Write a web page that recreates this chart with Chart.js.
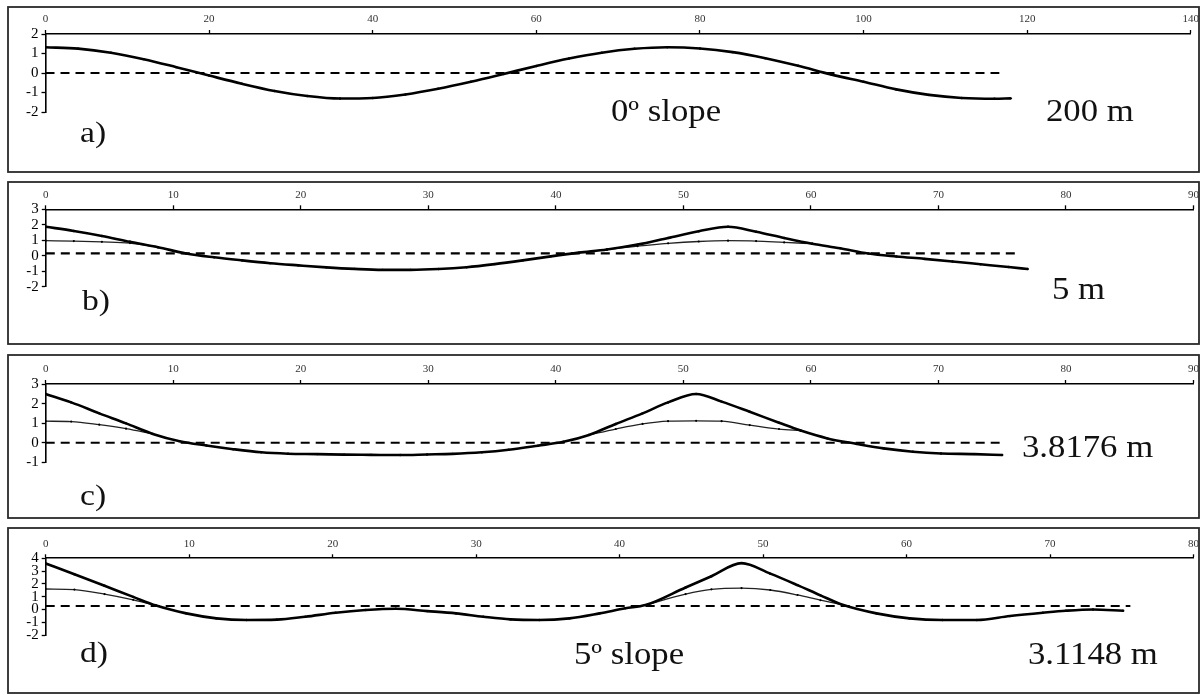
<!DOCTYPE html>
<html><head><meta charset="utf-8">
<script src="https://cdn.jsdelivr.net/npm/chart.js@4/dist/chart.umd.min.js"></script>
<style>
html,body{margin:0;padding:0;background:#fff;width:1203px;height:695px;overflow:hidden;}
canvas{position:absolute;left:0;}
</style></head><body>
<canvas id="pa" width="1203" height="176" style="top:0px"></canvas>
<canvas id="pb" width="1203" height="174" style="top:176px"></canvas>
<canvas id="pc" width="1203" height="174" style="top:350px"></canvas>
<canvas id="pd" width="1203" height="171" style="top:524px"></canvas>
<script>
// ---------- data ----------
// panel a) 0º slope, 200 m
const aX      = [0,4,8,12,16,20,24,28,32,36,40,44,48,52,56,60,64,68,72,76,80,84,88,92,96,100,104,108,112,116,118];
const aThick  = [1.32,1.25,1.04,0.71,0.30,-0.13,-0.55,-0.92,-1.18,-1.31,-1.28,-1.10,-0.81,-0.45,-0.05,0.36,0.74,1.04,1.24,1.32,1.26,1.07,0.76,0.37,-0.07,-0.45,-0.84,-1.12,-1.28,-1.32,-1.30];
const aLevelX = [0,116.6];
const aLevel  = [0,0];

// panel b) 5 m
const bX      = [0,2.2,4.4,6.6,8.8,11,13.2,15.4,17.6,19.8,22,24.2,26.4,28.6,30.8,33,35.2,37.4,39.6,41.8,44,46.4,48.8,51.2,53.5,55.7,57.9,60.1,62.3,64.5,66.7,68.9,71.1,73.3,75.5,77];
const bThick  = [1.87,1.6,1.28,0.9,0.55,0.15,-0.1,-0.3,-0.48,-0.62,-0.75,-0.85,-0.91,-0.91,-0.86,-0.74,-0.54,-0.3,-0.04,0.2,0.4,0.72,1.15,1.58,1.87,1.55,1.15,0.78,0.48,0.14,-0.05,-0.2,-0.37,-0.55,-0.73,-0.86];
const bThin   = [0.97,0.95,0.9,0.82,0.55,null,null,null,null,null,null,null,null,null,null,null,null,null,null,null,0.4,0.62,0.8,0.92,0.97,0.95,0.86,0.78,null,null,null,null,null,null,null,null];
const bLevelX = [0,76.1];
const bLevel  = [0.15,0.15];

// panel c) 3.8176 m
const cX      = [0,2.0,4.2,6.3,8.4,10.5,12.6,14.7,16.9,19,21.3,23.4,25.5,27.8,29.9,31.9,34.2,36.3,38.6,40.6,42.6,44.7,46.8,48.8,51,53,55.2,57.5,59.2,61.3,63.6,65.7,68,70.2,72.8,75];
const cThick  = [2.49,2.06,1.5,0.99,0.45,0.08,-0.14,-0.33,-0.49,-0.56,-0.58,-0.61,-0.62,-0.63,-0.6,-0.57,-0.49,-0.36,-0.15,0.05,0.4,0.96,1.5,2.06,2.49,2.1,1.58,1.02,0.62,0.22,-0.06,-0.29,-0.46,-0.55,-0.58,-0.63];
const cThin   = [1.1,1.08,0.92,0.72,0.45,null,null,null,null,null,null,null,null,null,null,null,null,null,null,null,0.4,0.7,0.96,1.1,1.12,1.1,0.9,0.7,0.62,null,null,null,null,null,null,null];
const cLevelX = [0,74.8];
const cLevel  = [0,0];

// panel d) 5º slope, 3.1148 m
const dX      = [0,2.0,4.1,6.1,7.7,9.8,11.9,14.0,16.1,18.1,20.2,22.3,24.4,26.6,28.6,30.5,32.4,34.4,36.5,38.6,40.4,41.8,44.6,46.4,48.5,50.5,52.4,54,55.6,57.9,60.2,62.5,64.9,67.2,69.5,71.1,73,75.1];
const dThick  = [3.6,2.75,1.85,0.98,0.3,-0.31,-0.7,-0.83,-0.8,-0.57,-0.26,-0.05,0.05,-0.13,-0.31,-0.57,-0.78,-0.83,-0.7,-0.31,0.09,0.34,1.72,2.6,3.62,2.8,1.9,1.1,0.34,-0.31,-0.7,-0.83,-0.83,-0.52,-0.26,-0.1,0.0,-0.1];
const dThin   = [1.6,1.55,1.2,0.75,0.3,null,null,null,null,null,null,null,null,null,null,null,null,null,null,null,null,0.34,1.2,1.57,1.67,1.52,1.13,0.72,0.34,null,null,null,null,null,null,null,null,null];
const dLevelX = [0,75.6];
const dLevel  = [0.27,0.27];

// tick settings
const aXTicks = {max:140, step:20}, aYTicks = {min:-2, max:2};
const bXTicks = {max:90, step:10},  bYTicks = {min:-2, max:3};
const cXTicks = {max:90, step:10},  cYTicks = {min:-1, max:3};
const dXTicks = {max:80, step:10},  dYTicks = {min:-2, max:4};

// ---------- drawing ----------
const SERIF = '"Liberation Serif","Times New Roman",serif';
const pts = (xs, ys) => xs.map((x, i) => ({x: x, y: ys[i]}));

const decor = {
  id: 'decor',
  beforeDraw(chart, args, o) {
    const ctx = chart.ctx;
    ctx.save();
    ctx.fillStyle = '#fff';
    ctx.fillRect(0, 0, chart.width, chart.height);
    ctx.strokeStyle = '#2a2a2a';
    ctx.lineWidth = 1.8;
    ctx.strokeRect(o.box[0], o.box[1], o.box[2], o.box[3]);
    ctx.restore();
  },
  afterDraw(chart, args, o) {
    const ctx = chart.ctx;
    ctx.save();
    ctx.fillStyle = '#111';
    ctx.textBaseline = 'alphabetic';
    ctx.textAlign = 'left';
    o.texts.forEach(t => {
      ctx.save();
      ctx.font = t.size + 'px ' + SERIF;
      ctx.translate(t.x, t.y);
      ctx.scale(1.12, 1);
      ctx.fillText(t.s, 0, 0);
      ctx.restore();
    });
    ctx.restore();
  }
};

function panel(id, top, h, g, xt, yt, sets, texts, box) {
  const datasets = [
    {data: pts(sets.x, sets.thick), borderColor:'#000', borderWidth:2.6, pointRadius:1.2, pointBackgroundColor:'#000', pointBorderWidth:0, cubicInterpolationMode:'monotone', order:0},
    {data: pts(sets.lx, sets.level), borderColor:'#000', borderWidth:2.2, borderDash:[9,6], pointRadius:0, order:2}
  ];
  if (sets.thin) datasets.push({data: pts(sets.x, sets.thin), borderColor:'#222', borderWidth:1.3, pointRadius:1.1, pointBackgroundColor:'#000', pointBorderWidth:0, cubicInterpolationMode:'monotone', spanGaps:false, order:1});
  new Chart(document.getElementById(id), {
    type: 'line',
    data: {datasets: datasets},
    plugins: [decor],
    options: {
      responsive: false, animation: false, devicePixelRatio: 1,
      layout: {padding: {left: 0, top: 0, right: 1203 - g.R, bottom: h - (g.B - top)}},
      plugins: {legend: {display: false}, tooltip: {enabled: false},
        decor: {box: [box[0], box[1] - top, box[2] - box[0], box[3] - box[1]],
                texts: texts.map(t => ({s: t.s, x: t.x, y: t.y - top, size: t.size}))}},
      scales: {
        x: {type: 'linear', position: 'top', min: 0, max: xt.max,
            ticks: {stepSize: xt.step, autoSkip: false, maxRotation: 0, padding: 4, color: '#333', font: {family: SERIF, size: 11}},
            grid: {display: true, drawOnChartArea: false, drawTicks: true, tickLength: 4, tickColor: '#000', tickWidth: 1.3},
            border: {display: true, color: '#000', width: 1.6},
            afterFit: s => { s.height = g.T - top; }},
        y: {type: 'linear', position: 'left', min: yt.min, max: yt.max,
            ticks: {stepSize: 1, autoSkip: false, padding: 3, color: '#000', font: {family: SERIF, size: 15}},
            grid: {display: true, drawOnChartArea: false, drawTicks: true, tickLength: 4, tickColor: '#000', tickWidth: 1.3},
            border: {display: true, color: '#000', width: 1.6},
            afterFit: s => { s.width = g.L; }}
      }
    }
  });
}

panel('pa', 0, 176, {L:45.5, R:1191.5, T:34, B:112}, aXTicks, aYTicks,
  {x: aX, thick: aThick, lx: aLevelX, level: aLevel},
  [{s:'a)', x:80, y:142, size:30}, {s:'0º slope', x:611, y:120.5, size:31}, {s:'200 m', x:1046, y:120.5, size:31}],
  [8, 7, 1199, 172]);

panel('pb', 176, 174, {L:45.8, R:1194, T:209.3, B:286.7}, bXTicks, bYTicks,
  {x: bX, thick: bThick, thin: bThin, lx: bLevelX, level: bLevel},
  [{s:'b)', x:82, y:310, size:30}, {s:'5 m', x:1052, y:299, size:31}],
  [8, 182, 1199, 344]);

panel('pc', 350, 174, {L:45.7, R:1194, T:384, B:462.3}, cXTicks, cYTicks,
  {x: cX, thick: cThick, thin: cThin, lx: cLevelX, level: cLevel},
  [{s:'c)', x:80, y:505, size:30}, {s:'3.8176 m', x:1022, y:457, size:31}],
  [8, 355, 1199, 518]);

panel('pd', 524, 171, {L:45.7, R:1194, T:558.3, B:635}, dXTicks, dYTicks,
  {x: dX, thick: dThick, thin: dThin, lx: dLevelX, level: dLevel},
  [{s:'d)', x:80, y:662, size:30}, {s:'5º slope', x:574, y:664, size:31}, {s:'3.1148 m', x:1028, y:664, size:31}],
  [8, 528, 1199, 693]);
</script>
</body></html>
